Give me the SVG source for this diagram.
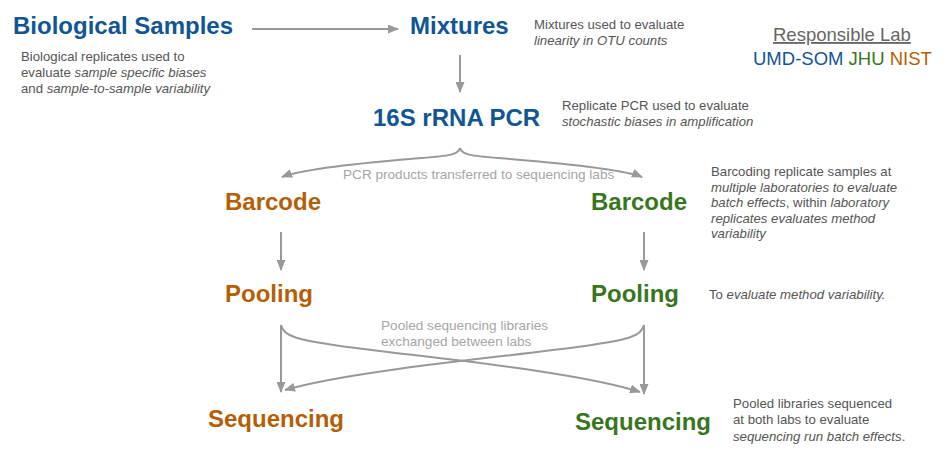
<svg xmlns="http://www.w3.org/2000/svg" width="951" height="450" viewBox="0 0 951 450">
  <style>
    .title { font-family: "Liberation Sans", Arial, sans-serif; font-size: 24px; font-weight: bold; }
    .blue { fill: #125595; }
    .orange { fill: #b45f06; }
    .green { fill: #38761d; }
    .desc { font-family: "Liberation Sans", Arial, sans-serif; font-size: 13.2px; fill: #555555; }
    .note { font-family: "Liberation Sans", Arial, sans-serif; font-size: 13.6px; fill: #a6a6a6; }
    .legend { font-family: "Liberation Sans", Arial, sans-serif; font-size: 18.5px; }
    .it { font-style: italic; }
    .conn { fill: none; stroke: #999999; stroke-width: 2; marker-end: url(#ah); }
  </style>
  <defs>
    <marker id="ah" markerWidth="11" markerHeight="9" refX="10" refY="4.5" orient="auto" markerUnits="userSpaceOnUse">
      <path d="M0,0 L11,4.5 L0,9 z" fill="#999999"/>
    </marker>
  </defs>

  <rect width="951" height="450" fill="#ffffff"/>

  <!-- connectors -->
  <g id="connectors">
    <path class="conn" d="M252,29 L398,29"/>
    <path class="conn" d="M460,55 L460,92"/>
    <!-- brace splitting PCR products to both labs -->
    <path class="conn" d="M460,148 C458,156 445,156 410,159 C350,164 300,170 282,177"/>
    <path class="conn" d="M460,148 C462,156 475,156 510,159 C570,164 625,170 642,177"/>
    <path class="conn" d="M281,232 L281,270"/>
    <path class="conn" d="M644,232 L644,270"/>
    <!-- pooled libraries: own lab and exchange -->
    <path class="conn" d="M281,325 L281,392"/>
    <path class="conn" d="M644,325 L644,394"/>
    <path class="conn" d="M281,325 C283,337 300,340 340,346 C420,357 570,370 640,392"/>
    <path class="conn" d="M644,325 C642,337 625,340 585,346 C505,357 355,370 285,390"/>
    <text class="note" x="343" y="179">PCR products transferred to sequencing labs</text>
    <text class="note" x="381" y="330">Pooled sequencing libraries</text>
    <text class="note" x="381" y="346">exchanged between labs</text>
  </g>

  <g id="biological-samples">
    <text class="title blue" x="13" y="34">Biological Samples</text>
    <text class="desc" x="21" y="61">Biological replicates used to</text>
    <text class="desc" x="21" y="77">evaluate <tspan class="it">sample specific biases</tspan></text>
    <text class="desc" x="21" y="93">and <tspan class="it">sample-to-sample variability</tspan></text>
  </g>

  <g id="mixtures">
    <text class="title blue" x="410" y="34">Mixtures</text>
    <text class="desc" x="534" y="29">Mixtures used to evaluate</text>
    <text class="desc it" x="534" y="45">linearity in OTU counts</text>
  </g>

  <g id="legend">
    <text class="legend" x="773" y="41" fill="#666666" text-decoration="underline">Responsible Lab</text>
    <text class="legend" x="753" y="65"><tspan class="blue">UMD-SOM</tspan> <tspan class="green">JHU</tspan> <tspan class="orange">NIST</tspan></text>
  </g>

  <g id="pcr">
    <text class="title blue" x="373" y="126">16S rRNA PCR</text>
    <text class="desc" x="562" y="110">Replicate PCR used to evaluate</text>
    <text class="desc it" x="562" y="126">stochastic biases in amplification</text>
  </g>

  <g id="barcode-nist">
    <text class="title orange" x="225" y="210">Barcode</text>
  </g>
  <g id="barcode-jhu">
    <text class="title green" x="591" y="210">Barcode</text>
    <text class="desc" x="711" y="176">Barcoding replicate samples at</text>
    <text class="desc it" x="711" y="191.5">multiple laboratories to evaluate</text>
    <text class="desc" x="711" y="207"><tspan class="it">batch effects</tspan>, within <tspan class="it">laboratory</tspan></text>
    <text class="desc it" x="711" y="222.5">replicates evaluates method</text>
    <text class="desc it" x="711" y="238">variability</text>
  </g>

  <g id="pooling-nist">
    <text class="title orange" x="225" y="302">Pooling</text>
  </g>
  <g id="pooling-jhu">
    <text class="title green" x="591" y="302">Pooling</text>
    <text class="desc" x="709" y="299">To <tspan class="it">evaluate method variability.</tspan></text>
  </g>

  <g id="sequencing-nist">
    <text class="title orange" x="208" y="427">Sequencing</text>
  </g>
  <g id="sequencing-jhu">
    <text class="title green" x="575" y="430">Sequencing</text>
    <text class="desc" x="733" y="408">Pooled libraries sequenced</text>
    <text class="desc" x="733" y="424">at both labs to evaluate</text>
    <text class="desc" x="733" y="441"><tspan class="it">sequencing run batch effects</tspan>.</text>
  </g>
</svg>
